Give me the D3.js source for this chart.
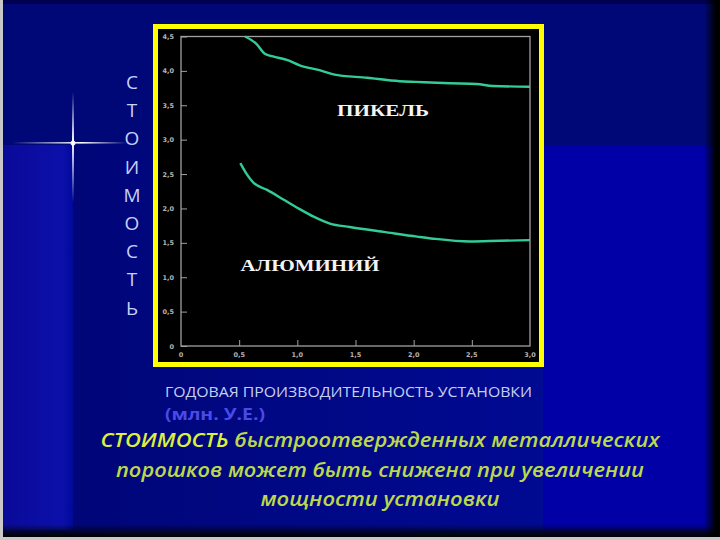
<!DOCTYPE html>
<html><head><meta charset="utf-8">
<script src="https://cdn.jsdelivr.net/npm/d3@7"></script>
<style>html,body{margin:0;padding:0;background:#000878;}svg{display:block;}</style>
</head><body>
<script>
// ---- data ----
const xTicks = [0, 0.5, 1.0, 1.5, 2.0, 2.5, 3.0];
const yTicks = [0, 0.5, 1.0, 1.5, 2.0, 2.5, 3.0, 3.5, 4.0, 4.5];
const nickelX = [0.55, 0.65, 0.72, 0.79, 0.91, 1.02, 1.19, 1.31, 1.60, 1.88, 2.02, 2.31, 2.54, 2.68, 3.0];
const nickelY = [4.50, 4.39, 4.25, 4.21, 4.16, 4.08, 4.01, 3.95, 3.90, 3.85, 3.84, 3.82, 3.81, 3.78, 3.77];
const alumX = [0.51, 0.565, 0.62, 0.74, 0.88, 1.02, 1.14, 1.28, 1.45, 1.74, 2.03, 2.17, 2.48, 2.74, 3.0];
const alumY = [2.66, 2.50, 2.38, 2.27, 2.13, 1.99, 1.88, 1.78, 1.73, 1.66, 1.59, 1.56, 1.52, 1.53, 1.54];
const seriesNames = ["ПИКЕЛЬ", "АЛЮМИНИЙ"];
const yLetters = ["С","Т","О","И","М","О","С","Т","Ь"];
const xTitle = "ГОДОВАЯ ПРОИЗВОДИТЕЛЬНОСТЬ УСТАНОВКИ";
const xUnit = "(млн. У.Е.)";
const captionLines = [["СТОИМОСТЬ", " быстроотвержденных металлических"], ["", "порошков может быть снижена при увеличении"], ["", "мощности установки"]];

const W = 720, H = 540;
const svg = d3.select("body").append("svg").attr("width", W).attr("height", H);
const defs = svg.append("defs");

// ---- background ----
svg.append("rect").attr("width", W).attr("height", H).attr("fill", "#000878");
const gl = defs.append("linearGradient").attr("id","leftcol").attr("x1","0").attr("x2","1").attr("y1","0").attr("y2","0");
gl.append("stop").attr("offset","0").attr("stop-color","#0a0a98");
gl.append("stop").attr("offset","0.85").attr("stop-color","#0c10aa");
gl.append("stop").attr("offset","1").attr("stop-color","#00089a");
svg.append("rect").attr("x",3).attr("y",145).attr("width",70).attr("height",385).attr("fill","url(#leftcol)");
const gc = defs.append("linearGradient").attr("id","midcol").attr("x1","0").attr("x2","1").attr("y1","0").attr("y2","0");
gc.append("stop").attr("offset","0").attr("stop-color","#000678");
gc.append("stop").attr("offset","1").attr("stop-color","#000a92");
svg.append("rect").attr("x",73).attr("y",145).attr("width",470).attr("height",385).attr("fill","url(#midcol)");
svg.append("rect").attr("x",543).attr("y",145).attr("width",170).attr("height",385).attr("fill","#0000a6");
svg.append("rect").attr("x",0).attr("y",0).attr("width",W).attr("height",4).attr("fill","#000050");
// shadows
const gr = defs.append("linearGradient").attr("id","rsh").attr("x1","0").attr("x2","1");
gr.append("stop").attr("offset","0").attr("stop-color","#000000").attr("stop-opacity",0);
gr.append("stop").attr("offset","1").attr("stop-color","#000000").attr("stop-opacity",1);
svg.append("rect").attr("x",704).attr("y",0).attr("width",12).attr("height",537).attr("fill","url(#rsh)");
svg.append("rect").attr("x",716).attr("y",0).attr("width",4).attr("height",540).attr("fill","#000");
const gb = defs.append("linearGradient").attr("id","bsh").attr("x1","0").attr("x2","0").attr("y1","0").attr("y2","1");
gb.append("stop").attr("offset","0").attr("stop-color","#000000").attr("stop-opacity",0);
gb.append("stop").attr("offset","1").attr("stop-color","#000000").attr("stop-opacity",1);
svg.append("rect").attr("x",0).attr("y",524).attr("width",W).attr("height",13).attr("fill","url(#bsh)");
svg.append("rect").attr("x",0).attr("y",537).attr("width",W).attr("height",3).attr("fill","#c8c8c8");
svg.append("rect").attr("x",0).attr("y",0).attr("width",3).attr("height",H).attr("fill","#c8c8c8");

// star
const sv = defs.append("linearGradient").attr("id","sv").attr("x1","0").attr("x2","0").attr("y1","0").attr("y2","1");
sv.append("stop").attr("offset","0").attr("stop-color","#fff").attr("stop-opacity",0);
sv.append("stop").attr("offset","0.45").attr("stop-color","#fff").attr("stop-opacity",1);
sv.append("stop").attr("offset","1").attr("stop-color","#fff").attr("stop-opacity",0);
const sh = defs.append("linearGradient").attr("id","sh").attr("x1","0").attr("x2","1").attr("y1","0").attr("y2","0");
sh.append("stop").attr("offset","0").attr("stop-color","#fff").attr("stop-opacity",0);
sh.append("stop").attr("offset","0.6").attr("stop-color","#fff").attr("stop-opacity",1);
sh.append("stop").attr("offset","1").attr("stop-color","#fff").attr("stop-opacity",0);
svg.append("rect").attr("x",72).attr("y",92).attr("width",2).attr("height",110).attr("fill","url(#sv)");
svg.append("rect").attr("x",12).attr("y",142).attr("width",115).attr("height",1.6).attr("fill","url(#sh)");
svg.append("circle").attr("cx",73).attr("cy",143).attr("r",2.5).attr("fill","#fff").attr("opacity",0.9);

// vertical title letters
svg.append("g").selectAll("text").data(yLetters).join("text")
  .attr("x", 132).attr("y", (d,i) => 89 + i*28.2)
  .attr("text-anchor","middle").attr("font-family","Open Sans, sans-serif").attr("font-size",19)
  .attr("fill","#c8d0f8").text(d => d);

// ---- chart box ----
svg.append("rect").attr("x",155.5).attr("y",26.5).attr("width",386).attr("height",338)
  .attr("fill","#000").attr("stroke","#ffff00").attr("stroke-width",5);

const x = d3.scaleLinear().domain([0,3]).range([181,530]);
const y = d3.scaleLinear().domain([0,4.5]).range([346,36.5]);
const fmt = d => d === 0 ? "0" : d3.format(".1f")(d).replace(".", ",");

// frame
svg.append("rect").attr("x",x(0)).attr("y",y(4.5)).attr("width",x(3)-x(0)).attr("height",y(0)-y(4.5))
  .attr("fill","none").attr("stroke","#a0a0a0").attr("stroke-width",1.3);

const yAx = svg.append("g").attr("transform",`translate(${x(0)},0)`)
  .call(d3.axisRight(y).tickValues(yTicks).tickSize(6).tickFormat(""));
yAx.select(".domain").remove();
yAx.selectAll("line").attr("stroke","#a0a0a0");
svg.append("g").selectAll("text").data(yTicks).join("text")
  .attr("x", x(0)-7).attr("y", d => y(d)+2.5).attr("text-anchor","end")
  .attr("font-family","DejaVu Sans, sans-serif").attr("font-weight","bold").attr("font-size",6.5).attr("fill","#b4b4b4").text(fmt);

const xAx = svg.append("g").attr("transform",`translate(0,${y(0)})`)
  .call(d3.axisTop(x).tickValues(xTicks.filter(d=>d>0&&d<3)).tickSize(6).tickFormat(""));
xAx.select(".domain").remove();
xAx.selectAll("line").attr("stroke","#a0a0a0");
svg.append("g").selectAll("text").data(xTicks).join("text")
  .attr("x", d => x(d)).attr("y", y(0)+11).attr("text-anchor","middle")
  .attr("font-family","DejaVu Sans, sans-serif").attr("font-weight","bold").attr("font-size",6.5).attr("fill","#b4b4b4").text(fmt);

// curves
const line = d3.line().x(d => x(d[0])).y(d => y(d[1])).curve(d3.curveMonotoneX);
[[nickelX,nickelY],[alumX,alumY]].forEach(([xs,ys]) => {
  svg.append("path").datum(xs.map((v,i)=>[v,ys[i]])).attr("d",line)
    .attr("fill","none").attr("stroke","#33cc96").attr("stroke-width",2.4);
});

// series labels
svg.append("text").attr("x", 383).attr("y", 116).attr("text-anchor","middle")
  .attr("font-family","Liberation Serif, serif").attr("font-weight","bold").attr("font-size",16)
  .attr("textLength",92).attr("lengthAdjust","spacingAndGlyphs")
  .attr("fill","#f4f4f4").text(seriesNames[0]);
svg.append("text").attr("x", 310).attr("y", 271).attr("text-anchor","middle")
  .attr("font-family","Liberation Serif, serif").attr("font-weight","bold").attr("font-size",16)
  .attr("textLength",139).attr("lengthAdjust","spacingAndGlyphs")
  .attr("fill","#f4f4f4").text(seriesNames[1]);

// x title
svg.append("text").attr("x",165).attr("y",397)
  .attr("font-family","Open Sans, sans-serif").attr("font-size",15)
  .attr("textLength",367).attr("lengthAdjust","spacingAndGlyphs")
  .attr("fill","#c8d0f0").text(xTitle);
svg.append("text").attr("x",165).attr("y",420)
  .attr("font-family","Open Sans, sans-serif").attr("font-weight","bold").attr("font-size",16)
  .attr("textLength",100).attr("lengthAdjust","spacingAndGlyphs")
  .attr("fill","#4a4ae8").text(xUnit);

// caption
const capBase = [447, 477, 506];
const capLen = [559, 528, 239];
captionLines.forEach((parts,i) => {
  const t = svg.append("text").attr("x",380).attr("y",capBase[i]).attr("text-anchor","middle")
    .attr("font-family","Open Sans, sans-serif").attr("font-style","italic").attr("font-weight","600")
    .attr("font-size",19).attr("textLength",capLen[i]).attr("lengthAdjust","spacingAndGlyphs");
  if (parts[0]) t.append("tspan").attr("fill","#dcf03a").text(parts[0]);
  t.append("tspan").attr("fill","#bcd84c").text(parts[1]);
});
</script>
</body></html>
